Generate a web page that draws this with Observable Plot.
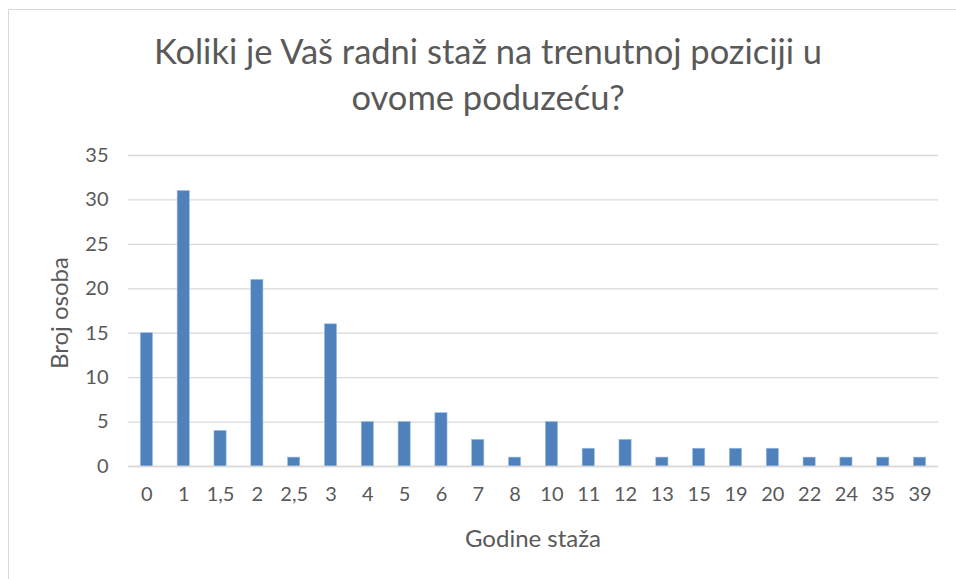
<!DOCTYPE html>
<html>
<head>
<meta charset="utf-8">
<script src="https://cdn.jsdelivr.net/npm/d3@7"></script>
<script src="https://cdn.jsdelivr.net/npm/@observablehq/plot@0.6"></script>
<style>
  html, body { margin: 0; padding: 0; background: #fff; }
  #wrap { position: relative; width: 956px; height: 579px; overflow: hidden; font-family: Lato, "Open Sans", sans-serif; }
  #frame { position: absolute; left: 8px; top: 9px; width: 1000px; height: 1000px; border-left: 1.5px solid #d9d9d9; border-top: 1.5px solid #d9d9d9; }
  #title { position: absolute; left: 38px; width: 900px; top: 28px; text-align: center; font-size: 34.5px; line-height: 46px; color: #595959; }
  #chart { position: absolute; left: 0; top: 0; }
  #ylab { position: absolute; left: 58px; top: 313px; transform: translate(-50%, -50%) rotate(-90deg); font-size: 24px; color: #595959; white-space: nowrap; }
  #xlab { position: absolute; left: 533px; top: 537px; transform: translate(-50%, -50%); font-size: 24px; color: #595959; white-space: nowrap; }
</style>
</head>
<body>
<div id="wrap">
  <div id="frame"></div>
  <div id="chart"></div>
  <div id="title">Koliki je Vaš radni staž na trenutnoj poziciji u<br>ovome poduzeću?</div>
  <div id="ylab">Broj osoba</div>
  <div id="xlab">Godine staža</div>
</div>
<script>
const categories = ["0","1","1,5","2","2,5","3","4","5","6","7","8","10","11","12","13","15","19","20","22","24","35","39"];
const counts = [15,31,4,21,1,16,5,5,6,3,1,5,2,3,1,2,2,2,1,1,1,1];
const yTicks = [0,5,10,15,20,25,30,35];

const data = categories.map((c, i) => ({cat: c, n: counts[i]}));

const chart = Plot.plot({
  width: 956,
  height: 579,
  marginLeft: 128,
  marginRight: 18,
  marginTop: 155,
  marginBottom: 113,
  style: {fontFamily: "Lato, 'Open Sans', sans-serif", fontSize: "20px", color: "#595959", background: "transparent"},
  x: {domain: categories, paddingInner: 0.67, paddingOuter: 0.335, round: false, label: null},
  y: {domain: [0, 35], label: null},
  marks: [
    Plot.gridY(yTicks, {stroke: "#d9d9d9", strokeOpacity: 1, strokeWidth: 1.3}),
    Plot.barY(data, {x: "cat", y: "n", fill: "#4f81bd", stroke: "#9dbbe0", strokeWidth: 0.6}),
    Plot.ruleY([0], {stroke: "#d9d9d9", strokeWidth: 1.5}),
    Plot.axisY(yTicks, {tickSize: 0, tickPadding: 20, fontSize: 20, label: null, fill: "#595959"}),
    Plot.axisX({tickSize: 0, tickPadding: 20, fontSize: 20, label: null, fill: "#595959"})
  ]
});
document.getElementById("chart").appendChild(chart);
</script>
</body>
</html>
